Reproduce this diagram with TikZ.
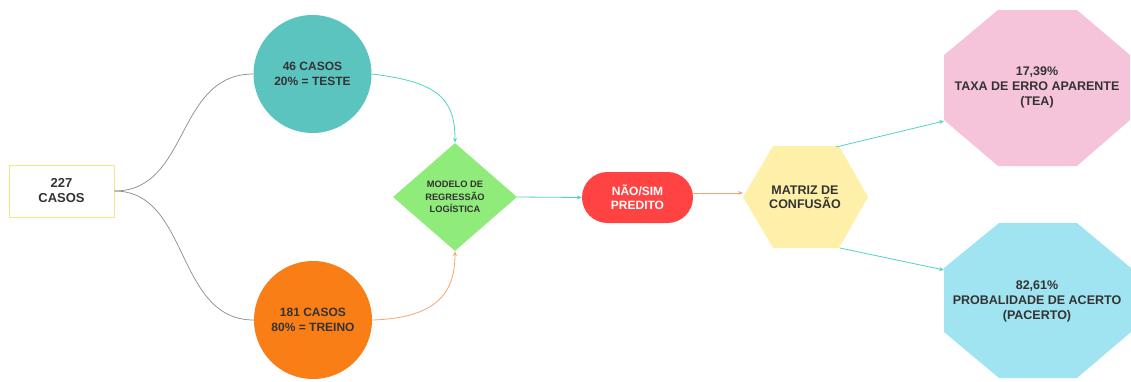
\documentclass[tikz,border=0pt]{standalone}
\usepackage{fontspec}
\setmainfont{Liberation Sans}
\usetikzlibrary{shapes.geometric,shapes.misc,arrows.meta}
\definecolor{txt}{HTML}{333333}
\definecolor{tealc}{HTML}{5BC4BF}
\definecolor{orangec}{HTML}{F97E16}
\definecolor{greenc}{HTML}{8FEB7A}
\definecolor{redc}{HTML}{FF4242}
\definecolor{yellowc}{HTML}{FEF0A9}
\definecolor{pinkc}{HTML}{F6C4DA}
\definecolor{bluec}{HTML}{A0E4F1}
\definecolor{boxline}{HTML}{F3E98A}
\definecolor{tealline}{HTML}{4ED3C6}
\definecolor{orangeline}{HTML}{F9A46C}
\definecolor{grayline}{HTML}{8A8A8A}
\tikzset{
  lbl/.style={font=\fontsize{12}{14.5}\selectfont\bfseries, text=txt, align=center, inner sep=0},
  circ/.style={circle, minimum size=118pt, inner sep=0, lbl},
  tarrow/.style={draw=tealline, line width=0.8pt, -{Stealth[length=5pt,width=4pt]}},
  oarrow/.style={draw=orangeline, line width=0.8pt, -{Stealth[length=5pt,width=4pt]}},
  gcurve/.style={draw=grayline, line width=0.7pt}
}
\begin{document}
\begin{tikzpicture}[x=1pt,y=-1pt]
\useasboundingbox (0,0) rectangle (1131,381);
% start box
\node[draw=boxline, line width=1pt, fill=white, minimum width=105pt, minimum height=52pt, lbl, font=\fontsize{13}{15}\selectfont\bfseries] (start) at (61.5,191) {227\\CASOS};
% circles
\node[circ, fill=tealc] (teste) at (312.5,74) {46 CASOS\\20\% = TESTE};
\node[circ, fill=orangec] (treino) at (313,320) {181 CASOS\\80\% = TREINO};
% diamond
\node[diamond, aspect=1.15, fill=greenc, minimum width=124pt, minimum height=108pt, inner sep=0, lbl, font=\fontsize{9.3}{12.3}\selectfont\bfseries] (modelo) at (455,197) {MODELO DE\\REGRESSÃO\\LOGÍSTICA};
% pill
\node[rounded rectangle, fill=redc, minimum width=111pt, minimum height=51pt, inner sep=0, lbl, text=white, font=\fontsize{12}{14}\selectfont\bfseries] (pred) at (637.5,197.5) {NÃO/SIM\\PREDITO};
% hexagon
\fill[yellowc] (743,197) -- (773,146) -- (839,146) -- (868,197) -- (839,248) -- (773,248) -- cycle;
\coordinate (hexL) at (743,193);
\coordinate (hexTR) at (836,147);
\coordinate (hexBR) at (840,248);
\node[lbl, font=\fontsize{12.5}{14.3}\selectfont\bfseries] (matriz) at (805,197) {MATRIZ DE\\CONFUSÃO};
% pink octagon
\fill[pinkc] (998,10) -- (1077,10) -- (1130,55) -- (1130,120) -- (1077,166) -- (998,166) -- (944,120) -- (944,55) -- cycle;
\coordinate (teaL) at (944,121);
\node[lbl, font=\fontsize{12.5}{15}\selectfont\bfseries] (tea) at (1037,87) {17,39\%\\TAXA DE ERRO APARENTE\\(TEA)};
% blue octagon
\fill[bluec] (999,223) -- (1077,223) -- (1131,268) -- (1131,332) -- (1077,378) -- (999,378) -- (944,332) -- (944,268) -- cycle;
\coordinate (pacL) at (944,270);
\node[lbl, font=\fontsize{12.5}{15}\selectfont\bfseries] (pac) at (1037,301) {82,61\%\\PROBALIDADE DE ACERTO\\(PACERTO)};
% connectors
\draw[gcurve] (start.east) .. controls (190,191) and (175,74) .. (teste.west);
\draw[gcurve] (start.east) .. controls (190,191) and (175,320) .. (treino.west);
\draw[tarrow] (teste.east) .. controls (440,82) and (455,100) .. (modelo.north);
\draw[oarrow] (treino.east) .. controls (440,318) and (455,290) .. (modelo.south);
\draw[tarrow] (modelo.east) -- (pred.west);
\draw[oarrow] (pred.east |- hexL) -- (hexL);
\draw[tarrow] (hexTR) -- (teaL);
\draw[tarrow] (hexBR) -- (pacL);
\end{tikzpicture}
\end{document}
